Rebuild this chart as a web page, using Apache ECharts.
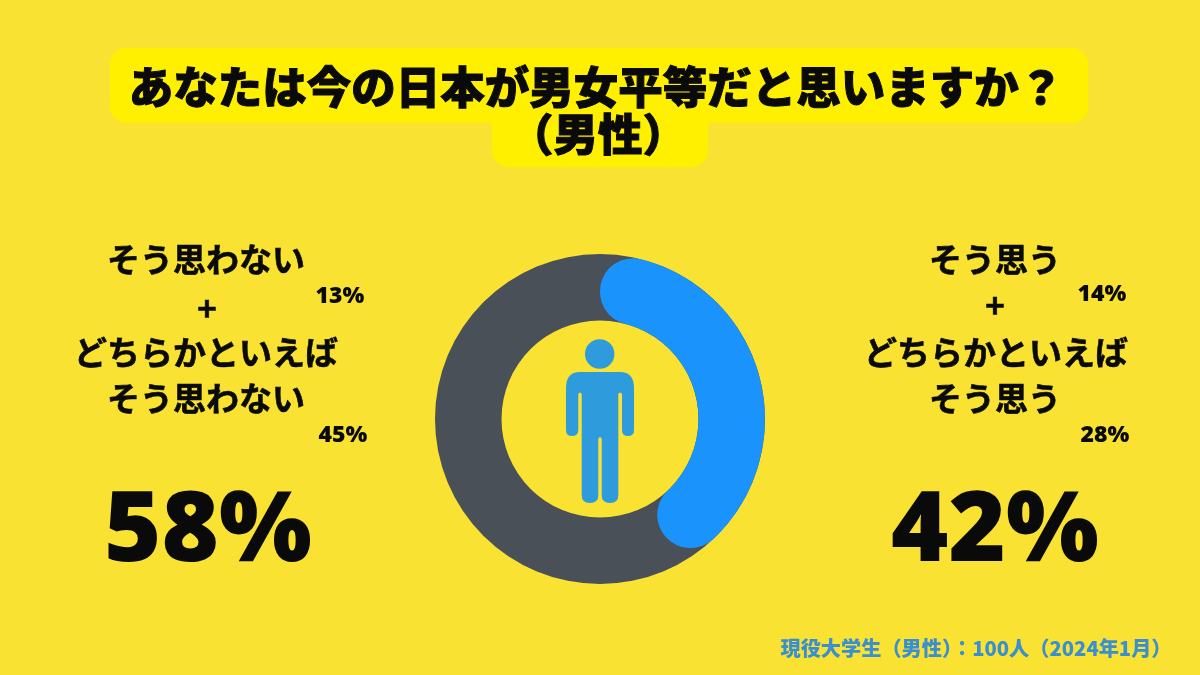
<!DOCTYPE html>
<html>
<head>
<meta charset="utf-8">
<style>html,body{margin:0;padding:0;background:#f9e231}</style>
<script src="https://cdn.jsdelivr.net/npm/echarts@6/dist/echarts.min.js"></script>
</head>
<body>
<div id="main" style="width:1200px;height:675px;"></div>
<script>
// 円グラフの値
var answers = ['そう思う', 'そう思わない'];
var shares = [42, 58];
var agreeParts = [14, 28];
var disagreeParts = [13, 45];

var titleLines = ['あなたは今の日本が男女平等だと思いますか？', '（男性）'];
var agreeLines = ['そう思う', '+', 'どちらかといえば', 'そう思う'];
var disagreeLines = ['そう思わない', '+', 'どちらかといえば', 'そう思わない'];
var footnote = '現役大学生（男性）：100人（2024年1月）';

var jp = '"Noto Sans CJK JP"';
var black = '#0a0a0a';
var latin = '"Open Sans"';

function text(str, x, y, size, weight, color, family, bold) {
    return {
        type: 'text',
        x: x,
        y: y,
        style: {
            text: str,
            fill: color || black,
            stroke: bold ? (color || black) : null,
            lineWidth: bold || 0,
            font: (weight || 700) + ' ' + size + 'px ' + (family || jp),
            textAlign: 'center',
            textVerticalAlign: 'middle'
        }
    };
}

var personPath = 'M580 372 L620 372 Q634 372 634 388 L634 430 Q634 436 628 436 Q622 436 622 430 ' +
    'L622 394 Q620 391 618.3 394 L618.3 495 Q618.3 503 610 503 Q601.7 503 601.7 495 ' +
    'L601.7 439 Q600 435 598.3 439 L598.3 495 Q598.3 503 590 503 Q581.7 503 581.7 495 ' +
    'L581.7 394 Q580 391 578.3 394 L578.3 430 Q578.3 436 572 436 Q566 436 566 430 ' +
    'L566 388 Q566 372 580 372 Z';

var myChart = echarts.init(document.getElementById('main'));

myChart.setOption({
    backgroundColor: '#f9e231',
    animation: false,
    series: [{
        // 下地のリング
        type: 'pie',
        silent: true,
        center: [600, 419],
        radius: [98.5, 165],
        startAngle: 90,
        label: {show: false},
        labelLine: {show: false},
        data: [{
            name: answers[1],
            value: shares[0] + shares[1],
            itemStyle: {color: '#4a5058'}
        }]
    }, {
        type: 'pie',
        silent: true,
        z: 3,
        center: [600, 419],
        radius: [98.5, 165],
        startAngle: 90,
        clockwise: true,
        label: {show: false},
        labelLine: {show: false},
        data: [{
            name: answers[0],
            value: shares[0],
            itemStyle: {color: '#1a94fc', borderRadius: 33}
        }, {
            name: answers[1],
            value: shares[1],
            itemStyle: {color: 'transparent'}
        }]
    }, {
        // 人のアイコン
        type: 'custom',
        coordinateSystem: 'none',
        silent: true,
        data: [[0]],
        renderItem: function () {
            return {
                type: 'group',
                children: [{
                    type: 'circle',
                    shape: {cx: 599.7, cy: 354, r: 14.7},
                    style: {fill: '#2e9bdd'}
                }, {
                    type: 'path',
                    shape: {pathData: personPath, x: 566, y: 372, width: 68, height: 131, layout: 'cover'},
                    style: {fill: '#2e9bdd'}
                }]
            };
        }
    }],
    graphic: [
        {type: 'rect', shape: {x: 110, y: 48, width: 978, height: 75, r: 16}, style: {fill: '#fff000'}},
        {type: 'rect', shape: {x: 492, y: 110, width: 216, height: 57, r: 16}, style: {fill: '#fff000'}},
        text(titleLines[0], 596, 87, 44.5, 900, black, jp, 1),
        text(titleLines[1], 598, 134, 44.5, 900, black, jp, 1),

        text(disagreeLines[0], 206, 259, 33, 700, black, jp, 0.6),
        text(disagreeLines[1], 207, 308, 33, 700, black, jp, 0.6),
        text(disagreeLines[2], 206, 352, 33, 700, black, jp, 0.6),
        text(disagreeLines[3], 206, 398, 33, 700, black, jp, 0.6),
        text(disagreeParts[0] + '%', 340, 296, 23, 800, black, latin),
        text(disagreeParts[1] + '%', 343, 435, 23, 800, black, latin),
        text(shares[1] + '%', 208, 533, 98, 800, black, latin),

        text(agreeLines[0], 995, 259, 33, 700, black, jp, 0.6),
        text(agreeLines[1], 995, 305, 33, 700, black, jp, 0.6),
        text(agreeLines[2], 996, 352, 33, 700, black, jp, 0.6),
        text(agreeLines[3], 995, 398, 33, 700, black, jp, 0.6),
        text(agreeParts[0] + '%', 1102, 294, 23, 800, black, latin),
        text(agreeParts[1] + '%', 1105, 435, 23, 800, black, latin),
        text(shares[0] + '%', 995, 533, 98, 800, black, latin),

        text(footnote, 976, 648, 20.2, 900, '#3a8fd0')
    ]
});
</script>
</body>
</html>
